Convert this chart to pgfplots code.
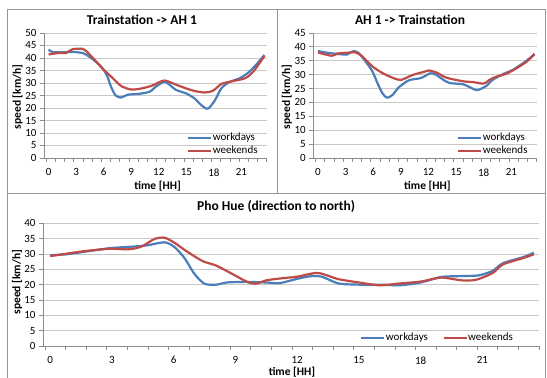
\documentclass[border=0pt]{standalone}
\usepackage{fontspec}
\setmainfont{Carlito}
\usepackage{pgfplots}
\pgfplotsset{compat=1.18}
\definecolor{wblue}{RGB}{74,126,187}
\definecolor{wred}{RGB}{190,75,72}
\definecolor{gridc}{RGB}{200,200,200}
\definecolor{axc}{RGB}{140,140,140}
\definecolor{framec}{RGB}{150,150,150}
\pgfplotsset{
 panel/.style={
  scale only axis,
  axis x line=bottom, axis y line=left,
  axis line style={-, draw=axc, line width=0.8pt},
  enlargelimits=false,
  ymin=0,
  ymajorgrids, grid style={draw=gridc, line width=0.8pt},
  tick align=outside,
  major tick length=4pt,
  tick style={draw=axc, line width=0.8pt},
  xtick={-0.25,0.75,...,23.75},
  xticklabels={},
  extra x ticks={0,3,6,9,12,15,18,21},
  extra x tick labels={0,3,6,9,12,15,18,21},
  extra x tick style={major tick length=0pt},
  /pgf/number format/assume math mode=true,
  tick label style={font=\fontsize{11}{13}\selectfont},
  xticklabel style={yshift=-7pt},
  label style={font=\bfseries\fontsize{11.5}{13}\selectfont},
  title style={font=\bfseries\fontsize{13.5}{15}\selectfont, anchor=center},
  legend style={draw=none, fill=none, font=\fontsize{11}{13}\selectfont, inner sep=0pt, row sep=0pt,
     nodes={inner sep=0.5pt, text height=8.5pt, text depth=3.5pt}},
  legend cell align=left,
  legend image code/.code={\draw[#1] (0pt,0pt) -- (23pt,0pt);},
  every axis plot/.append style={line width=2.2pt, smooth, tension=0.45, line join=round, no marks},
 },
}
\begin{document}
\begin{tikzpicture}[x=1pt,y=1pt]
\path[use as bounding box, fill=white] (0,0) rectangle (547,378);
% frames
\draw[framec, line width=1pt] (7,-2) -- (7,368) -- (545,368) -- (545,-2);
\draw[framec, line width=1pt] (277,368) -- (277,184);
\draw[framec, line width=1pt] (7,184) -- (545,184);

% ---------- top left ----------
\begin{axis}[panel, at={(44pt,220pt)}, anchor=south west, width=222.7pt, height=125pt,
  xmin=-0.5, xmax=23.75, ymax=50, ytick={0,5,...,50},
  title={Trainstation -> AH 1}, title style={at={(0.44,1.056)}},
  xlabel={time [HH]}, xlabel style={at={(0.51,-0.224)}, anchor=center},
  ylabel={speed [km/h]}, ylabel style={at={(-0.119,0.488)}, anchor=center},
  legend style={at={(0.642,0.212)}, anchor=north west}]
\addplot[wblue] coordinates {(0,43.4)(0.4,42.4)(1.5,42.3)(2.6,42.4)(3.7,42)(4.4,40.6)(5.3,38)(6,35.3)(6.4,32.6)(6.8,28.5)(7.3,25)(7.9,24.2)(8.6,25.3)(9.9,25.7)(11,26.5)(11.7,28.6)(12.6,30.5)(13.1,29.5)(13.9,27.2)(15,25.8)(15.9,23.8)(16.5,21.6)(17,20.1)(17.4,19.8)(18.1,23)(18.8,27.8)(19.6,30.2)(20.8,31.9)(21.7,34)(22.6,37.3)(23.5,41.2)};
\addlegendentry{workdays}
\addplot[wred] coordinates {(0,41.4)(1.1,42)(1.9,42)(2.6,43.5)(3.7,43.7)(4.1,42.8)(5,39.3)(6,35.3)(7,31.9)(7.9,28.8)(9,27.4)(10.1,27.8)(11.3,29)(12.6,31)(13.9,29.3)(15,27.8)(15.9,26.8)(17,26.2)(17.9,26.9)(18.8,29.6)(19.7,30.5)(21.4,31.9)(22.3,34.6)(23.5,40.8)};
\addlegendentry{weekends}
\end{axis}

% ---------- top right ----------
\begin{axis}[panel, at={(313.3pt,220pt)}, anchor=south west, width=223.4pt, height=125pt,
  xmin=-0.5, xmax=23.75, ymax=45, ytick={0,5,...,45},
  title={AH 1 -> Trainstation}, title style={at={(0.433,1.056)}},
  xlabel={time [HH]}, xlabel style={at={(0.511,-0.224)}, anchor=center},
  ylabel={speed [km/h]}, ylabel style={at={(-0.118,0.488)}, anchor=center},
  legend style={at={(0.643,0.212)}, anchor=north west}]
\addplot[wblue] coordinates {(0,38.5)(1.2,37.8)(2.6,37.3)(3.1,37.2)(3.9,38.5)(4.45,37.7)(5,35.5)(5.9,31.3)(6.46,27)(7,23.3)(7.5,21.7)(8.1,22.7)(8.8,25.5)(9.9,28)(11.2,28.8)(12.2,30.5)(12.8,30)(13.6,28.2)(14.3,27)(15.8,26.5)(16.9,24.8)(17.4,24.5)(18.3,26)(19,28.2)(20.1,30.2)(21.2,31.8)(22.3,34.2)(23.5,37.2)};
\addlegendentry{workdays}
\addplot[wred] coordinates {(0,38)(1.5,36.8)(2.1,37.6)(3.2,37.9)(4.1,38)(4.8,36.6)(5.9,33)(7,30.6)(8.1,28.9)(9,28.1)(10.3,29.9)(11.6,31.1)(12.1,31.5)(13,30.6)(13.6,29.4)(14.3,28.6)(15.8,27.6)(16.9,27.3)(18,26.8)(18.7,28.3)(19.4,29.3)(20.5,30.4)(21.6,32.4)(22.7,34.8)(23.5,37.5)};
\addlegendentry{weekends}
\end{axis}

% ---------- bottom ----------
\begin{axis}[panel, at={(43pt,32pt)}, anchor=south west, width=496pt, height=122.7pt,
  xmin=-0.35, xmax=23.75, ymax=40, ytick={0,5,...,40},
  title={Pho Hue (direction to north)}, title style={at={(0.47,1.092)}},
  xlabel={time [HH]}, xlabel style={at={(0.502,-0.212)}, anchor=center},
  ylabel={speed [km/h]}, ylabel style={at={(-0.0524,0.52)}, anchor=center},
  legend columns=2,
  legend style={at={(0.639,0.065)}, anchor=west, /tikz/every even column/.append style={column sep=14pt}}]
\addplot[wblue] coordinates {(0,29.6)(0.8,29.9)(1.75,30.8)(2.9,31.9)(4,32.4)(4.7,32.8)(5.56,33.8)(6.05,32.2)(6.53,28.6)(7.02,23.4)(7.5,20.3)(8.07,20)(8.56,20.7)(9.5,20.9)(10.5,20.7)(11.15,20.5)(12,21.9)(12.7,22.8)(13.2,22.6)(14,20.4)(15,20)(16,20)(17,19.8)(18,20.7)(19,22.5)(20,22.8)(20.8,23)(21.5,24.5)(22,27)(23,29)(23.5,30.4)};
\addlegendentry{workdays}
\addplot[wred] coordinates {(0,29.3)(0.8,30.1)(1.75,31)(2.9,31.7)(3.7,31.5)(4.1,31.8)(4.5,32.6)(5.07,34.9)(5.56,35.3)(6.05,33.6)(6.6,31)(7.4,27.7)(8.07,26.2)(8.9,23.3)(9.6,20.8)(10,20.3)(10.5,21.4)(11.15,22)(12,22.6)(13,23.8)(14,21.8)(15,20.7)(16,19.8)(17,20.4)(18,21)(19,22.3)(20,21.4)(20.7,21.6)(21.5,23.8)(22,26.6)(23,28.7)(23.5,29.9)};
\addlegendentry{weekends}
\end{axis}
\end{tikzpicture}
\end{document}
